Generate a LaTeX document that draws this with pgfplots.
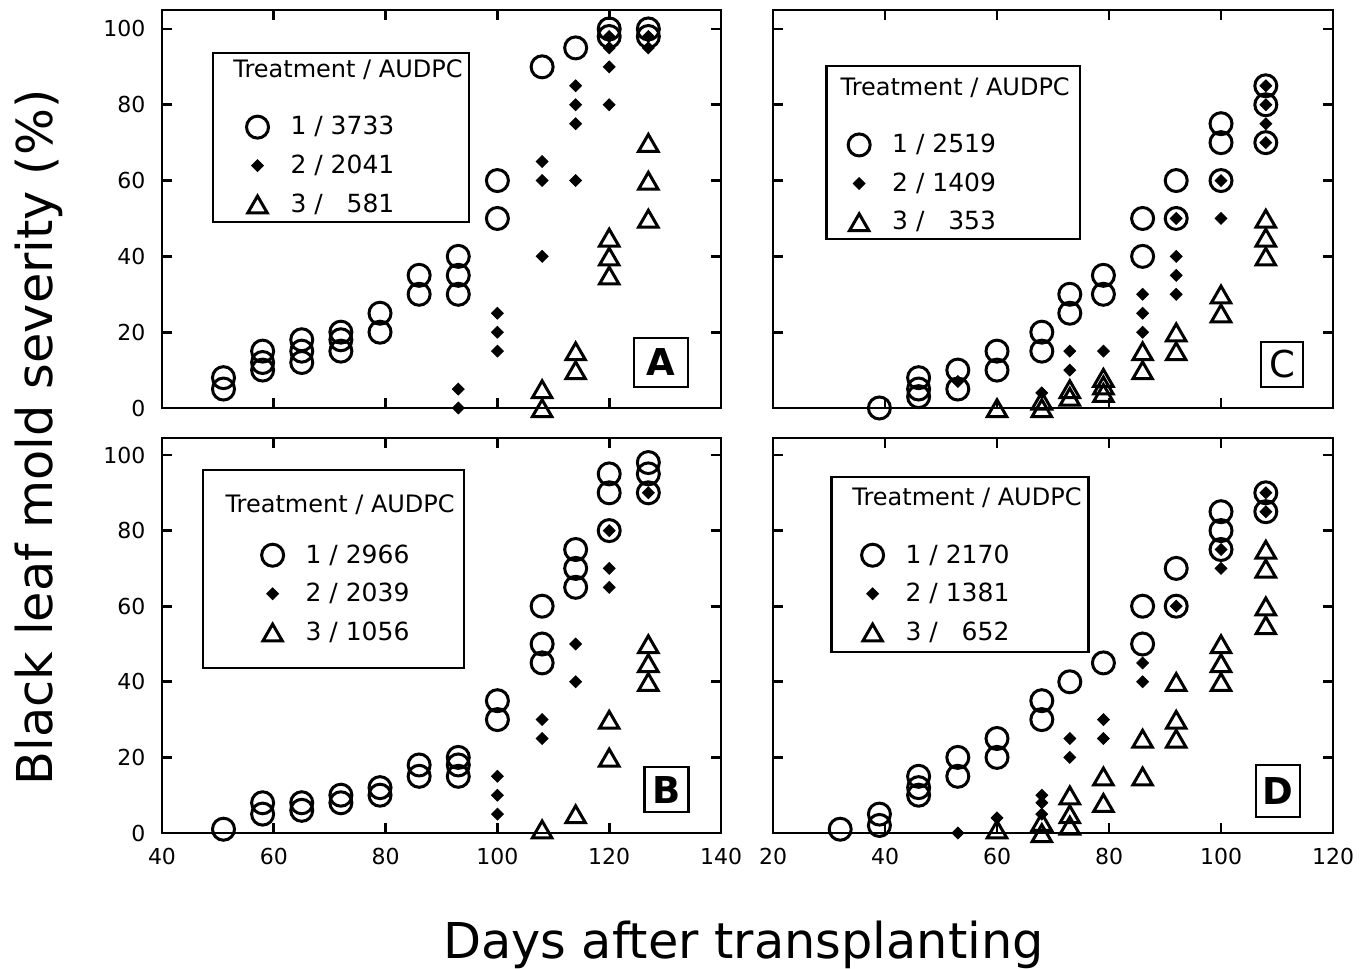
\documentclass[border=0pt]{standalone}
\usepackage{pgfplots}
\pgfplotsset{compat=1.18}
\usepackage{fontspec}
\setmainfont{DejaVu Sans}

\pgfplotsset{
 panel/.style={
  scale only axis, anchor=south west, clip=false,
  ymin=0, ytick={0,20,40,60,80,100},
  xtick={0,20,...,140},
  xtick pos=both, ytick pos=both, tick align=inside,
  major tick length=5pt,
  axis line style={line width=1.4pt},
  every tick/.style={black, line width=1.4pt},
  tick label style={font=\fontsize{11}{13}\selectfont},
  /pgf/number format/assume math mode=true,
  xticklabel style={yshift=-4.3pt},
  yticklabel style={xshift=-4.8pt},
  legend style={draw=none, fill=none, anchor=north west, font=\fontsize{12.5}{15}\selectfont, inner sep=0pt, row sep=4.5pt,
    /tikz/every odd column/.append style={column sep=9pt}},
  legend cell align=left,
 },
 t1/.style={only marks, mark=o, mark size=5.5pt, line width=1.5pt, black},
 t2/.style={only marks, mark=square*, mark size=2.1pt, mark options={rotate=45}, black},
 t3/.style={only marks, mark=triangle, mark size=5.6pt, line width=1.5pt, black, mark options={yshift=-1.5pt}},
}
\tikzset{
 lbox/.style={draw, line width=1.3pt, inner sep=0pt, font=\fontsize{18.5}{20}\selectfont},
 ttl/.style={anchor=west, inner sep=0pt, font=\fontsize{12}{15}\selectfont},
}

\begin{document}
\begin{tikzpicture}
\useasboundingbox (0,0) rectangle (684pt,484pt);

% ---------------- Panel A ----------------
\begin{axis}[panel, at={(81pt,280pt)}, width=279.5pt, height=199pt,
  xmin=40, xmax=140, ymax=105, xticklabels={},
  legend style={at={(axis cs:55.05,78.1)}}]
\addplot[t1] coordinates {(51,5)(51,8)(58,10)(58,12)(58,15)(65,12)(65,15)(65,18)(72,15)(72,18)(72,20)(79,20)(79,25)(86,30)(86,35)(93,30)(93,35)(93,40)(100,50)(100,60)(108,90)(114,95)(120,98)(120,100)(127,98)(127,100)};
\addlegendentry{1 / 3733}
\addplot[t2] coordinates {(93,0)(93,5)(100,15)(100,20)(100,25)(108,40)(108,60)(108,65)(114,60)(114,75)(114,80)(114,85)(120,80)(120,90)(120,95)(120,98)(127,95)(127,98)};
\addlegendentry{2 / 2041}
\addplot[t3] coordinates {(108,0)(108,5)(114,10)(114,15)(120,35)(120,40)(120,45)(127,50)(127,60)(127,70)};
\addlegendentry{3 / \phantom{0}581}
\draw[line width=1.3pt] (axis cs:49.1,93.7) rectangle (axis cs:94.9,49.1);
\node[ttl] at (axis cs:52.7,89.2) {Treatment / AUDPC};
\node[lbox, font=\fontsize{18.5}{20}\selectfont\bfseries, minimum width=27pt, minimum height=24.5pt] at (axis cs:129.3,12.0) {A};
\end{axis}

% ---------------- Panel C ----------------
\begin{axis}[panel, at={(386.5pt,280pt)}, width=280pt, height=199pt,
  xmin=20, xmax=120, ymax=105, xticklabels={}, yticklabels={},
  legend style={at={(axis cs:33.35,73.4)}}]
\addplot[t1] coordinates {(39,0)(46,3)(46,5)(46,8)(53,5)(53,10)(60,10)(60,15)(68,15)(68,20)(73,25)(73,30)(79,30)(79,35)(86,40)(86,50)(92,50)(92,60)(100,60)(100,70)(100,75)(108,70)(108,80)(108,85)};
\addlegendentry{1 / 2519}
\addplot[t2] coordinates {(53,7)(68,4)(73,10)(73,15)(79,15)(86,20)(86,25)(86,30)(92,30)(92,35)(92,40)(92,50)(100,50)(100,60)(108,70)(108,75)(108,80)(108,85)};
\addlegendentry{2 / 1409}
\addplot[t3] coordinates {(60,0)(68,0)(68,2)(73,3)(73,5)(79,4)(79,6)(79,8)(86,10)(86,15)(92,15)(92,20)(100,25)(100,30)(108,40)(108,45)(108,50)};
\addlegendentry{3 / \phantom{0}353}
\draw[line width=1.3pt] (axis cs:29.6,90.2) rectangle (axis cs:74.8,44.6);
\node[ttl] at (axis cs:32.0,84.4) {Treatment / AUDPC};
\node[lbox, minimum width=21pt, minimum height=22.5pt] at (axis cs:110.9,11.5) {C};
\end{axis}

% ---------------- Panel B ----------------
\begin{axis}[panel, at={(81pt,67.5pt)}, width=279.5pt, height=197.5pt,
  xmin=40, xmax=140, ymax=104.5,
  legend style={at={(axis cs:57.75,77.5)}}]
\addplot[t1] coordinates {(51,1)(58,5)(58,8)(65,6)(65,8)(72,8)(72,10)(79,10)(79,12)(86,15)(86,18)(93,15)(93,18)(93,20)(100,30)(100,35)(108,45)(108,50)(108,60)(114,65)(114,70)(114,75)(120,80)(120,90)(120,95)(127,90)(127,95)(127,98)};
\addlegendentry{1 / 2966}
\addplot[t2] coordinates {(100,5)(100,10)(100,15)(108,25)(108,30)(114,40)(114,50)(120,65)(120,70)(120,80)(127,90)};
\addlegendentry{2 / 2039}
\addplot[t3] coordinates {(108,1)(114,5)(120,20)(120,30)(127,40)(127,45)(127,50)};
\addlegendentry{3 / 1056}
\draw[line width=1.3pt] (axis cs:47.3,96.0) rectangle (axis cs:94.0,43.7);
\node[ttl] at (axis cs:51.3,86.8) {Treatment / AUDPC};
\node[lbox, font=\fontsize{18.5}{20}\selectfont\bfseries, minimum width=22pt, minimum height=22.5pt] at (axis cs:130.3,11.5) {B};
\end{axis}

% ---------------- Panel D ----------------
\begin{axis}[panel, at={(386.5pt,67.5pt)}, width=280pt, height=197.5pt,
  xmin=20, xmax=120, ymax=104.5, yticklabels={},
  legend style={at={(axis cs:35.75,77.5)}}]
\addplot[t1] coordinates {(32,1)(39,2)(39,5)(46,10)(46,12)(46,15)(53,15)(53,20)(60,20)(60,25)(68,30)(68,35)(73,40)(79,45)(86,50)(86,60)(92,60)(92,70)(100,75)(100,80)(100,85)(108,85)(108,90)};
\addlegendentry{1 / 2170}
\addplot[t2] coordinates {(53,0)(60,4)(68,5)(68,8)(68,10)(73,20)(73,25)(79,25)(79,30)(86,40)(86,45)(92,60)(100,70)(100,75)(108,85)(108,90)};
\addlegendentry{2 / 1381}
\addplot[t3] coordinates {(60,1)(68,0)(68,3)(73,2)(73,5)(73,10)(79,8)(79,15)(86,15)(86,25)(92,25)(92,30)(92,40)(100,40)(100,45)(100,50)(108,55)(108,60)(108,70)(108,75)};
\addlegendentry{3 / \phantom{0}652}
\draw[line width=1.3pt] (axis cs:30.4,94.2) rectangle (axis cs:76.3,47.9);
\node[ttl] at (axis cs:34.1,88.6) {Treatment / AUDPC};
\node[lbox, font=\fontsize{18.5}{20}\selectfont\bfseries, minimum width=22pt, minimum height=26pt] at (axis cs:110.2,11.1) {D};
\end{axis}

\node[rotate=90, anchor=base, font=\fontsize{24.7}{30}\selectfont] at (26pt,265.25pt) {Black leaf mold severity (\%)};
\node[anchor=base, font=\fontsize{24.7}{30}\selectfont] at (371.75pt,5pt) {Days after transplanting};
\end{tikzpicture}
\end{document}
